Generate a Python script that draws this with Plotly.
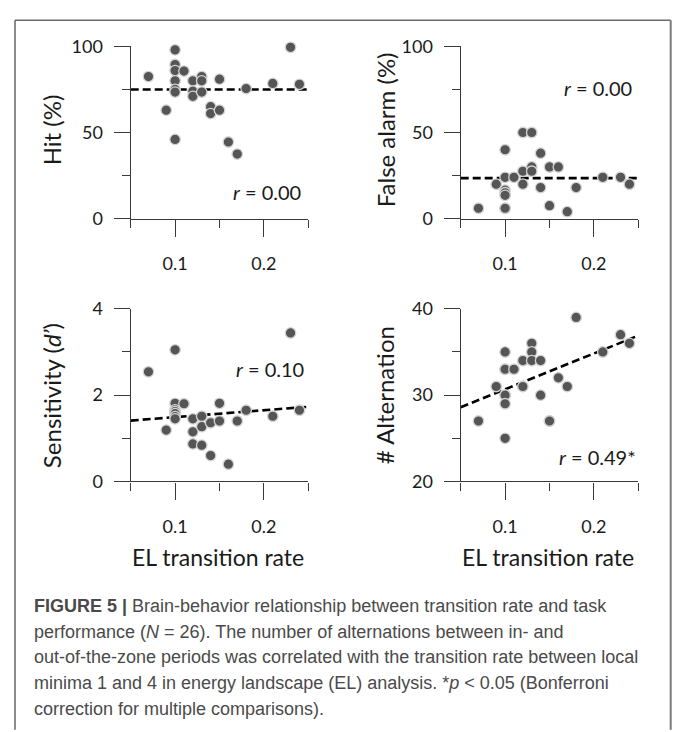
import plotly.graph_objects as go

# ---------------- data ----------------
el_rate = [0.07, 0.09, 0.10, 0.10, 0.10, 0.10, 0.10, 0.10, 0.10, 0.11,
           0.12, 0.12, 0.12, 0.13, 0.13, 0.13, 0.14, 0.14, 0.15, 0.15,
           0.16, 0.17, 0.18, 0.21, 0.23, 0.24]
hit = [82.5, 63, 98, 89.5, 86, 80, 75, 73.5, 46, 85.7,
       80, 74, 71, 82.5, 80, 73.5, 65, 61, 81, 63,
       44.5, 37.5, 75.5, 78.5, 99.5, 78]
false_alarm = [6, 20, 40, 24, 16.5, 15, 13.5, 6, 6, 24,
               50, 27.5, 20, 50, 30, 27.5, 38, 18, 30, 7.5,
               30, 4, 18, 24, 24, 20]
sensitivity = [2.54, 1.19, 3.05, 1.81, 1.66, 1.62, 1.57, 1.50, 1.45, 1.80,
               1.45, 1.15, 0.87, 1.51, 1.27, 0.84, 1.36, 0.60, 1.81, 1.40,
               0.40, 1.40, 1.65, 1.51, 3.44, 1.65]
alternation = [27, 31, 35, 33, 33, 30, 30, 29, 25, 33,
               34, 34, 31, 36, 35, 34, 34, 30, 27, 27,
               32, 31, 39, 35, 37, 36]

fit_x = [0.05, 0.25]
hit_fit = [75.0, 75.0]
fa_fit = [23.5, 23.5]
sens_fit = [1.41, 1.73]
alt_fit = [28.6, 36.9]

r_labels = ["<i>r</i> = 0.00", "<i>r</i> = 0.00", "<i>r</i> = 0.10", "<i>r</i> = 0.49*"]
y_titles = ["Hit (%)", "False alarm (%)", "Sensitivity (<i>d’</i>)", "# Alternation"]
x_title = "EL transition rate"
x_ticks = [0.1, 0.2]
y_ticks = [[0, 50, 100], [0, 50, 100], [0, 2, 4], [20, 30, 40]]
y_ranges = [[0, 100], [0, 100], [0, 4], [20, 40]]
y_minor = [25, 25, 1, 5]

caption_lines = [
    "<b>FIGURE 5 |</b> Brain-behavior relationship between transition rate and task",
    "performance (<i>N</i> = 26). The number of alternations between in- and",
    "out-of-the-zone periods was correlated with the transition rate between local",
    "minima 1 and 4 in energy landscape (EL) analysis. *<i>p</i> &lt; 0.05 (Bonferroni",
    "correction for multiple comparisons).",
]

# ---------------- layout helpers ----------------
W, H = 673, 732
def px(x):
    return x / W
def py(y):
    return 1 - y / H

FONT = "Lato"
AX = "#3a3a3a"

panels = [
    dict(x0=130.7, x1=308.3, y0=35.5, y1=213.0, ys=hit, fit=hit_fit, r=(267, 186), t=(51, 121)),
    dict(x0=460.7, x1=638.3, y0=35.5, y1=213.0, ys=false_alarm, fit=fa_fit, r=(598, 78), t=(385, 122)),
    dict(x0=130.7, x1=308.3, y0=306.0, y1=484.0, ys=sensitivity, fit=sens_fit, r=(270, 368), t=(51, 395)),
    dict(x0=460.7, x1=638.3, y0=306.0, y1=484.0, ys=alternation, fit=alt_fit, r=(597, 459), t=(384, 395)),
]

fig = go.Figure()
layout = dict(
    width=W, height=H, margin=dict(l=0, r=0, t=0, b=0),
    paper_bgcolor="white", plot_bgcolor="white", showlegend=False,
    font=dict(family=FONT, color="#1a1a1a"),
)
annotations = []
for i, p in enumerate(panels):
    k = "" if i == 0 else str(i + 1)
    xa, ya = "x" + k, "y" + k
    fig.add_trace(go.Scatter(
        x=fit_x, y=p["fit"], xaxis=xa, yaxis=ya, mode="lines",
        line=dict(color="black", width=2.6, dash="8px,4px"), hoverinfo="skip"))
    fig.add_trace(go.Scatter(
        x=el_rate, y=p["ys"], xaxis=xa, yaxis=ya, mode="markers", cliponaxis=False,
        marker=dict(size=10.5, color="#555555", line=dict(color="#d4d4d4", width=1.3))))
    common = dict(showgrid=False, zeroline=False, showline=True, linecolor=AX, linewidth=1.3,
                  ticks="outside", tickcolor=AX, tickwidth=1.3,
                  tickfont=dict(family=FONT, size=18, color="#1a1a1a"))
    layout["xaxis" + k] = dict(
        common, domain=[px(p["x0"]), px(p["x1"])], range=[0.05, 0.25], ticklen=17,
        anchor=ya, tickmode="array", tickvals=x_ticks, ticktext=["0.1", "0.2"],
        ticklabelstandoff=12,
        minor=dict(ticks="outside", ticklen=8, tickcolor=AX, tickwidth=1.3, dtick=0.05, tick0=0.05, showgrid=False))
    layout["yaxis" + k] = dict(
        common, domain=[py(p["y1"]), py(p["y0"])], range=y_ranges[i], ticklen=16,
        anchor=xa, tickmode="array", tickvals=y_ticks[i], ticklabelstandoff=7,
        minor=dict(ticks="outside", ticklen=8, tickcolor=AX, tickwidth=1.3, dtick=y_minor[i], tick0=0, showgrid=False))
    annotations.append(dict(x=px(p["r"][0]), y=py(p["r"][1]), xref="paper", yref="paper",
                            text=r_labels[i], showarrow=False, xanchor="center", yanchor="middle",
                            font=dict(family=FONT, size=20, color="#1a1a1a")))
    annotations.append(dict(x=px(p["t"][0]), y=py(p["t"][1]), xref="paper", yref="paper",
                            text=y_titles[i], showarrow=False, textangle=-90,
                            xanchor="center", yanchor="middle",
                            font=dict(family=FONT, size=24, color="#1a1a1a")))

for cx in (218, 548):
    annotations.append(dict(x=px(cx), y=py(562), xref="paper", yref="paper", text=x_title,
                            showarrow=False, xanchor="center", yanchor="middle",
                            font=dict(family=FONT, size=23, color="#1a1a1a")))

for j, line in enumerate(caption_lines):
    annotations.append(dict(x=px(31.5), y=py(612.5 + 26.5 * j), xref="paper", yref="paper",
                            text=line, showarrow=False, xanchor="left", yanchor="middle",
                            font=dict(family="Liberation Sans", size=18, color="#4a4a4a")))

layout["annotations"] = annotations
layout["shapes"] = [
    dict(type="line", xref="paper", yref="paper", x0=px(15), x1=px(670.7), y0=py(8.5), y1=py(8.5),
         line=dict(color="#6a6a6a", width=1.3)),
    dict(type="line", xref="paper", yref="paper", x0=px(15), x1=px(15), y0=py(8.5), y1=py(740),
         line=dict(color="#5a5a5a", width=1.4)),
    dict(type="line", xref="paper", yref="paper", x0=px(670.7), x1=px(670.7), y0=py(8.5), y1=py(740),
         line=dict(color="#7a7a7a", width=2)),
]
fig.update_layout(**layout)
fig.write_html("out.html", config={"displayModeBar": False},
               post_script="document.body.style.margin='0';document.body.style.overflow='hidden';")
